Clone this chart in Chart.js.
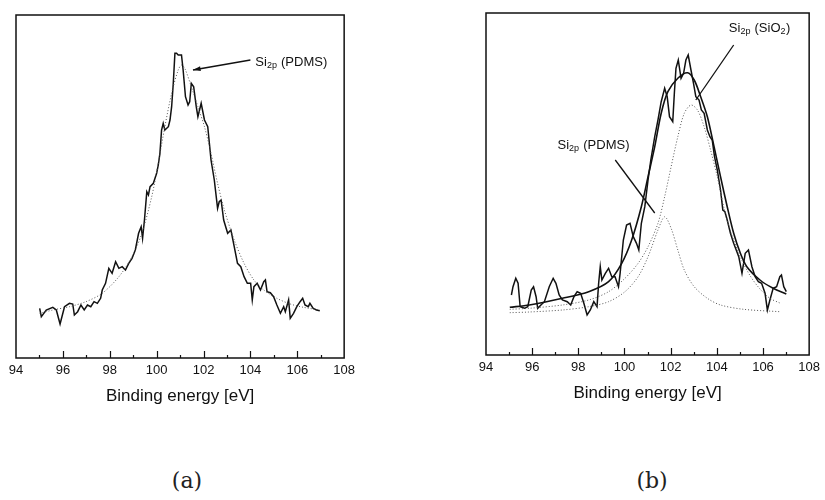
<!DOCTYPE html>
<html>
<head>
<meta charset="utf-8">
<script src="https://cdn.jsdelivr.net/npm/chart.js@4.4.1/dist/chart.umd.min.js"></script>
<style>
  body{margin:0;background:#fff;width:825px;height:500px;position:relative;overflow:hidden}
  .box{position:absolute;top:0}
  .cap{position:absolute;top:468px;font:22px "DejaVu Serif",serif;color:#222;transform:translateX(-50%)}
</style>
</head>
<body>
<div class="box" style="left:0"><canvas id="chartA" width="360" height="420"></canvas></div>
<div class="box" style="left:470px"><canvas id="chartB" width="355" height="420"></canvas></div>
<div class="cap" style="left:187px">(a)</div>
<div class="cap" style="left:652px">(b)</div>
<script>
// x axis ticks (binding energy, eV)
const xMin = 94, xMax = 108, xStep = 2;

// (a) raw Si2p spectrum, PDMS
const aRawX = [95.01,95.08,95.29,95.57,95.72,95.88,96.07,96.28,96.42,96.49,96.63,96.77,96.91,97.05,97.19,97.33,97.47,97.61,97.68,97.82,97.96,98.10,98.25,98.39,98.53,98.67,98.81,98.95,99.09,99.23,99.34,99.40,99.48,99.58,99.65,99.72,99.86,100.00,100.07,100.14,100.21,100.28,100.35,100.50,100.57,100.64,100.71,100.78,100.85,100.92,101.06,101.13,101.23,101.34,101.41,101.48,101.58,101.69,101.76,101.83,101.90,102.04,102.18,102.25,102.32,102.46,102.60,102.67,102.75,102.86,103.03,103.17,103.31,103.45,103.59,103.73,103.87,104.01,104.08,104.15,104.29,104.43,104.57,104.64,104.71,104.85,104.99,105.13,105.28,105.42,105.49,105.63,105.70,105.84,105.98,106.12,106.23,106.33,106.47,106.54,106.68,106.82,106.96];
const aRawY = [49.7,41.3,48,50.7,48,34,51.3,54.7,54,43,46.3,53,48,53,51.3,56.3,54.7,59.7,68,74.7,89.7,84.7,96.3,89.7,91.3,88,94.7,99.7,108,124.7,131.3,119.7,138,166.3,163,171.3,174.7,184.7,193,204.7,228,234.7,228,231.3,238,251.3,274.7,304.7,304.7,303,303,288,261.3,253,256.3,274.7,271.3,251.3,241.3,248,254.7,238,231.3,214.7,198,178,149.7,156.3,158,138,124.7,128,111.3,94.7,91.3,81.3,74.7,74.7,58,71.3,74.7,68,76.3,78,66.3,65.3,61.3,53,44.7,51.3,46.3,58,39.7,44.7,51.3,56.3,59.7,53,51.3,54.7,49.7,48,47.3];
// (a) fitted PDMS component
const aFitX = [95.01,95.57,96.28,96.98,97.68,98.39,98.95,99.37,99.79,100.07,100.35,100.64,100.92,101.06,101.20,101.48,101.76,102.04,102.32,102.60,102.89,103.31,103.73,104.15,104.57,105.13,105.70,106.26,106.96];
const aFitY = [44.7,48,51.3,56.3,64.7,81.3,101.3,124.7,161.3,194.7,231.3,264.7,288,293,289.7,271.3,251.3,231.3,204.7,174.7,148,118,94.7,78,68,59.7,54,50.7,48];

// (b) raw spectrum
const bRawX = [95.10,95.17,95.29,95.39,95.48,95.67,95.81,95.96,96.06,96.17,96.24,96.38,96.53,96.74,96.91,97.03,97.17,97.31,97.52,97.67,97.81,97.95,98.10,98.24,98.38,98.52,98.67,98.81,98.88,98.95,99.02,99.17,99.31,99.45,99.59,99.74,99.81,99.95,100.09,100.24,100.38,100.52,100.62,100.73,100.88,101.02,101.14,101.31,101.45,101.59,101.74,101.85,101.95,102.09,102.16,102.23,102.33,102.45,102.56,102.66,102.76,102.88,102.99,103.09,103.23,103.33,103.45,103.59,103.70,103.80,103.90,104.02,104.16,104.26,104.35,104.45,104.59,104.73,104.95,105.09,105.23,105.37,105.52,105.66,105.80,105.94,106.09,106.19,106.30,106.44,106.59,106.73,106.80,106.90,107.01];
const bRawY = [60,68.3,76.7,71.7,48.3,46.7,48.3,65,68.3,58.3,46.7,50,53.3,68.3,76.7,71.7,60,55,53.3,50,58.3,63.3,61.7,51.7,40,45,53.3,48.3,71.7,88.3,75,81.7,86.7,78.3,78.3,68.3,81.7,115,130,131.7,118.3,111.7,105,131.7,148.3,175,195,218.3,235,253.3,266.7,258.3,238.3,233.3,261.7,286.7,295,276.7,281.7,295,300,285,271.7,258.3,255,245,241.7,225,218.3,215,198.3,185,165,145,143.3,135,121.7,111.7,98.3,81.7,101.7,105,88.3,78.3,73.3,71.7,61.7,45,55,66.7,68.3,78.3,80,68.3,63.3];
// (b) total fit envelope
const bSumX = [95.03,95.88,97.31,98.45,99.31,99.88,100.31,100.73,101.02,101.31,101.59,101.88,102.31,102.73,103.02,103.30,103.59,103.88,104.16,104.45,104.73,105.02,105.30,105.87,106.44,107.01];
const bSumY = [47.7,50,56.7,63.3,73.3,91.7,115,148.3,178.3,208.3,241.7,263.3,276.7,282.3,275,258.3,238.3,208.3,178.3,148.3,121.7,101.7,88.3,75,66.7,61];
// (b) SiO2 component
const bSioX = [95.03,95.88,97.31,98.45,99.31,100.02,100.59,101.02,101.45,101.74,102.02,102.31,102.59,102.88,103.16,103.45,103.73,104.02,104.30,104.59,105.02,105.45,105.87,106.30,106.73];
const bSioY = [45.7,46.7,50,55,63.3,76.7,91.7,108.3,131.7,158.3,188.3,218.3,241.7,250,245,228.3,205,178.3,148,124,98,79,66,56.7,52];
// (b) PDMS component
const bPdmsX = [95.03,95.88,97.31,98.45,99.31,100.02,100.59,101.02,101.45,101.74,102.02,102.31,102.59,103.02,103.59,104.16,105.16,106.73];
const bPdmsY = [42.3,43,45,48.3,53.3,63.3,78.3,98.3,125,138.3,126.7,105,85,68.3,56.7,50,45.7,43.3];

// labels: [x, y] in data units, with leader lines
const aLabels = [{text:['Si','2p',' (PDMS)'], at:[104.21,296], line:[[104.0,298],[101.55,288]], arrow:true}];
const bLabels = [
  {text:['Si','2p',' (SiO','2',')'], at:[104.52,327], line:[[104.73,310],[103.09,255]], arrow:false},
  {text:['Si','2p',' (PDMS)'], at:[97.10,210], line:[[99.6,195],[101.31,142]], arrow:false}
];

const pts = (xs, ys) => xs.map((x, i) => ({x, y: ys[i]}));
const FONT = '"Liberation Sans", Arial, sans-serif';

function drawRich(ctx, parts, x, y){
  // alternate normal / subscript segments
  let cx = x;
  ctx.textBaseline = 'middle';
  ctx.textAlign = 'left';
  parts.forEach((p, i) => {
    const sub = i % 2 === 1;
    ctx.font = sub ? `9px ${FONT}` : `13px ${FONT}`;
    ctx.fillText(p, cx, sub ? y + 4 : y);
    cx += ctx.measureText(p).width + (sub ? 0.5 : 0);
  });
}

const framePlugin = {
  id: 'frame',
  afterDraw(chart){
    const {ctx, chartArea: a, scales: {x, y}} = chart;
    ctx.save();
    ctx.strokeStyle = '#111';
    ctx.lineWidth = 1.5;
    ctx.strokeRect(a.left, a.top, a.right - a.left, a.bottom - a.top);
    ctx.lineWidth = 1.2;
    for(let v = xMin + 1; v < xMax; v++){
      const px = Math.round(x.getPixelForValue(v)) + 0.5;
      const len = v % 2 === 0 ? 7 : 3;
      ctx.beginPath(); ctx.moveTo(px, a.bottom); ctx.lineTo(px, a.bottom - len); ctx.stroke();
    }
    ctx.fillStyle = '#111';
    ctx.lineWidth = 1.3;
    for(const l of chart.options.plugins.frame.labels){
      const [p0, p1] = l.line.map(([vx, vy]) => [x.getPixelForValue(vx), y.getPixelForValue(vy)]);
      ctx.beginPath(); ctx.moveTo(p0[0], p0[1]); ctx.lineTo(p1[0], p1[1]); ctx.stroke();
      if(l.arrow){
        const ang = Math.atan2(p1[1] - p0[1], p1[0] - p0[0]);
        ctx.beginPath();
        ctx.moveTo(p1[0], p1[1]);
        ctx.lineTo(p1[0] - 8 * Math.cos(ang - 0.3), p1[1] - 8 * Math.sin(ang - 0.3));
        ctx.lineTo(p1[0] - 8 * Math.cos(ang + 0.3), p1[1] - 8 * Math.sin(ang + 0.3));
        ctx.closePath(); ctx.fill();
      }
      drawRich(ctx, l.text, x.getPixelForValue(l.at[0]), y.getPixelForValue(l.at[1]));
    }
    ctx.restore();
  }
};

const rawStyle = {borderColor:'#111', borderWidth:1.5, pointRadius:0, tension:0, fill:false};
const dotStyle = {borderColor:'#555', borderWidth:1, borderDash:[1,2], pointRadius:0, tension:0.3, fill:false};

function makeChart(id, datasets, yMax, pad, labels){
  return new Chart(document.getElementById(id), {
    type: 'line',
    data: {datasets},
    options: {
      responsive: false, animation: false, devicePixelRatio: 1,
      layout: {padding: pad},
      plugins: {legend:{display:false}, tooltip:{enabled:false}, frame:{labels}},
      scales: {
        x: {
          type:'linear', min:xMin, max:xMax,
          grid:{display:false, drawTicks:false}, border:{display:false},
          ticks:{stepSize:xStep, padding:5, color:'#111', font:{family:FONT, size:13}},
          title:{display:true, text:'Binding energy [eV]', color:'#111', font:{family:FONT, size:17}, padding:{top:0, bottom:13}},
          afterFit: s => { s.height = 62; }
        },
        y: {display:false, min:0, max:yMax}
      }
    },
    plugins: [framePlugin]
  });
}

makeChart('chartA', [
  {data: pts(aFitX, aFitY), ...dotStyle},
  {data: pts(aRawX, aRawY), ...rawStyle}
], 343, {left:16, right:12, top:15, bottom:0}, aLabels);

makeChart('chartB', [
  {data: pts(bPdmsX, bPdmsY), ...dotStyle},
  {data: pts(bSioX, bSioY), ...dotStyle},
  {data: pts(bRawX, bRawY), ...rawStyle},
  {data: pts(bSumX, bSumY), ...rawStyle, borderWidth:1.6, tension:0.3}
], 342, {left:16, right:12, top:13, bottom:3}, bLabels);
</script>
</body>
</html>
